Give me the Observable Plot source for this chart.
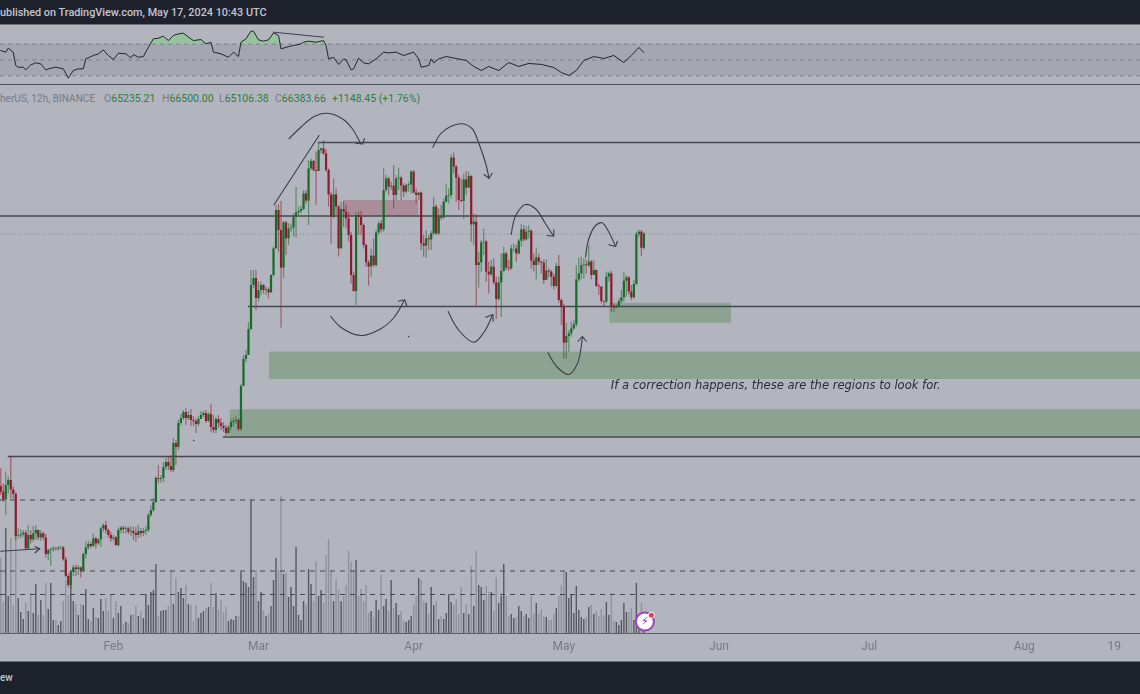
<!DOCTYPE html>
<html><head><meta charset="utf-8">
<script src="https://cdn.jsdelivr.net/npm/d3@7"></script>
<script src="https://cdn.jsdelivr.net/npm/@observablehq/plot@0.6"></script>
<style>
html,body{margin:0;padding:0;background:#b2b5be;overflow:hidden}
#page{position:relative;width:1140px;height:694px;overflow:hidden;background:#b2b5be;font-family:Roboto,sans-serif}
#page svg{position:absolute;left:0;background:transparent;overflow:hidden;filter:blur(0.3px)}
.bar{position:absolute;left:0;width:1140px;background:#1e222d}
.t{position:absolute;white-space:nowrap}
</style></head><body><div id="page"></div>
<script>
// ---- price data, thousands of USD per 12h bar
const closes=[
45.73,45.11,46.26,46.66,45.91,45.54,42.18,42.23,42.31,42.45,
41.19,42.26,41.91,42.39,42.66,42.07,42.39,42.07,40.74,41.06,
41.11,41.19,41.17,41.25,41.27,40.31,38.98,38.26,39.33,39.67,
39.54,39.67,39.41,40.74,41.27,41.54,41.38,41.99,41.59,41.91,
42.79,43.06,42.66,42.26,41.99,42.07,41.46,42.66,42.85,42.74,
42.79,42.53,42.58,42.42,42.26,42.58,42.42,42.58,42.66,43.86,
44.26,44.9,46.82,46.74,46.82,47.7,48.1,47.78,47.46,49.62,
49.3,51.22,51.62,52.1,51.62,51.86,51.46,51.38,51.14,51.54,
51.86,52.02,51.38,51.94,50.9,50.66,51.54,51.22,50.98,50.82,
50.42,50.9,51.3,51.38,51.46,50.74,54.18,56.34,56.66,58.74,
62.26,62.82,61.22,
61.86,62.26,61.86,61.91,61.67,63.06,65.19,68.26,66.66,63.65,
67.27,65.99,66.79,66.85,67.73,68.07,68.18,68.34,69.59,69.01,
71.59,72.18,71.46,71.38,73.06,73.19,72.79,71.46,69.51,67.73,
69.51,68.53,65.19,68.34,68.13,67.59,66.26,63.06,61.78,67.86,
67.73,67.06,65.46,64.07,63.73,64.61,63.86,66.47,67.19,66.71,69.86,
70.79,70.13,70.21,69.46,70.79,70.85,70.21,69.73,70.26,70.31,
71.33,69.65,69.46,69.65,65.59,65.41,65.99,65.91,66.39,68.53,
66.39,67.73,67.65,68.93,69.41,69.46,72.45,71.73,70.85,69.06,
68.98,70.71,70.05,70.98,67.11,67.33,63.86,64.07,65.67,65.73,
63.33,63.11,63.73,62.47,61.14,62.47,63.38,64.79,63.65,63.59,65.19,
65.19,64.79,65.81,66.71,65.91,66.53,66.61,64.21,63.86,64.47,
64.13,64.05,62.66,63.41,63.33,62.93,62.18,63.78,61.06,60.53,
57.65,58.18,58.39,58.79,59.11,62.71,63.19,63.86,63.91,63.83,
64.13,63.06,63.46,62.18,62.13,60.98,60.93,62.93,63.19,60.58,
60.47,60.58,60.98,61.27,62.61,62.87,61.73,61.27,62.34,66.34,
66.53,65.24,66.38];
const highs=[
47.6,46.39,47.33,46.93,48.61,46.13,45.73,42.79,42.71,42.66,
42.66,43.06,42.66,42.98,43.06,42.71,42.66,42.53,42.34,41.19,
41.27,41.38,41.33,41.38,41.43,41.38,40.53,39.19,39.46,39.86,
39.86,39.86,39.73,40.85,41.73,41.81,41.73,42.39,42.13,41.99,
42.93,43.19,43.41,42.79,42.53,42.26,42.18,42.87,42.98,42.98,
42.98,42.93,42.98,42.9,42.9,43.06,42.82,42.82,42.98,44.02,
44.66,45.22,46.98,47.86,47.06,48.1,48.42,48.58,48.66,50.02,
49.86,51.46,51.94,52.26,52.42,52.18,52.34,51.78,51.62,51.78,
52.18,52.18,52.26,52.1,52.74,51.86,51.7,51.86,51.62,51.3,
51.06,51.06,51.54,51.62,51.78,51.62,54.34,56.66,57.06,59.3,
63.46,63.46,63.46,
62.53,62.53,62.34,62.13,62.05,63.11,65.33,68.66,68.71,68.98,
67.38,67.38,67.19,67.19,67.99,70.13,68.53,68.61,69.86,69.86,
72.26,72.39,72.26,72.93,73.67,73.25,73.86,73.14,71.59,69.73,
70.79,69.99,68.66,68.93,68.98,68.66,68.07,66.53,63.33,68.07,
68.13,68.18,67.19,65.59,64.26,65.19,65.99,66.66,67.38,67.46,71.59,
71.06,70.93,70.53,71.86,71.06,71.65,71.01,70.39,70.39,70.53,
71.46,71.46,69.99,69.73,69.73,66.26,66.66,66.26,66.58,69.33,
68.71,68.39,68.66,69.19,70.39,69.99,72.71,72.87,71.86,71.06,
70.79,71.19,71.38,71.33,71.06,67.99,67.91,64.93,65.86,66.79,
65.86,64.13,64.26,64.39,62.93,62.93,64.79,65.33,64.93,64.26,65.46,
65.59,65.46,65.99,67.14,67.06,66.98,67.06,66.71,64.79,65.27,
64.79,64.21,64.31,64.31,63.59,63.46,63.19,64.05,64.66,61.19,
60.79,59.25,58.66,59.33,59.46,63.86,64.47,64.53,64.39,64.31,
65.46,64.26,64.26,63.51,62.39,62.18,61.06,63.33,63.33,63.41,
60.79,60.74,61.19,61.86,63.33,63.06,62.98,62.26,62.66,66.53,
66.71,66.66,66.5];
const lows=[
45.46,44.93,43.86,45.59,45.19,45.19,41.86,42.0,42.0,42.13,
41.11,41.11,41.59,41.73,41.86,41.86,41.81,41.86,40.47,40.26,
39.78,40.93,41.01,41.01,41.06,40.21,38.87,38.07,37.99,38.98,
38.98,39.06,38.87,39.33,40.39,41.06,41.19,41.33,41.19,41.46,
41.33,42.53,42.39,42.07,41.73,41.81,41.38,41.33,42.39,42.39,
42.39,42.34,42.18,41.86,41.7,42.02,42.1,42.18,42.26,42.5,
43.7,44.1,44.82,46.42,46.42,46.5,47.46,47.46,47.3,47.3,
47.86,49.06,51.06,51.46,51.06,51.46,50.98,50.98,50.42,50.98,
51.62,51.7,51.22,51.3,50.5,50.42,50.42,50.82,50.66,50.5,
50.18,50.26,50.66,50.98,51.14,50.58,50.58,54.18,56.1,56.66,
58.66,62.02,60.26,
60.93,61.46,61.59,61.46,61.19,61.67,62.93,65.19,64.93,58.85,
62.79,64.66,65.46,66.53,66.13,66.05,67.86,67.99,68.26,68.79,
67.06,71.46,71.33,68.66,71.38,72.79,72.66,71.33,68.53,65.59,
67.59,67.86,64.53,65.19,66.93,66.79,65.73,62.39,61.73,60.66,
66.26,66.26,65.19,63.73,62.21,62.93,63.73,63.73,66.31,66.47,66.53,
69.73,69.46,69.86,68.39,69.06,69.86,69.06,69.33,69.59,69.73,
69.59,69.59,68.79,69.06,65.06,64.53,64.45,65.06,65.06,66.26,
66.26,66.26,67.46,67.59,68.87,68.79,69.19,71.19,68.93,68.26,
68.87,67.54,69.46,70.05,65.73,65.46,60.61,62.05,63.33,64.66,
62.53,61.59,63.01,62.31,59.54,60.98,59.73,63.33,63.46,63.38,63.46,
64.93,64.13,64.71,65.33,65.73,65.81,65.99,63.59,63.33,62.71,
63.86,63.19,62.34,62.66,62.87,62.13,61.91,62.07,60.85,59.06,
56.39,56.39,56.93,58.13,58.66,58.93,62.53,62.71,62.79,63.19,
63.73,62.71,63.06,62.13,61.46,60.79,60.58,60.79,62.53,60.13,
60.13,60.47,60.53,60.79,60.93,61.33,61.46,61.06,61.19,62.26,
66.13,64.58,65.11];
const firstOpen=46.18;
// ---- volume per bar (relative units)
const volumes=[
75,31,105,37,95,28,105,35,21,14,30,22,40,20,49,18,33,18,50,24,
50,13,13,8,12,32,53,38,48,32,29,18,29,28,44,14,12,25,16,15,
34,22,35,22,39,15,32,20,27,9,11,10,18,19,27,17,22,15,39,28,
41,43,69,17,22,23,23,27,63,29,55,41,45,35,48,29,28,12,28,15,
20,22,25,26,50,26,40,23,33,21,26,12,14,13,17,17,
61,52,50,46,133,56,63,32,41,23,
17,19,27,53,75,63,137,59,60,36,
46,27,86,18,13,32,28,64,49,32,
72,37,43,30,78,94,62,32,54,43,
32,37,48,82,71,63,73,37,44,32,
48,20,22,16,33,23,58,27,34,22,
53,25,30,18,22,12,11,13,17,28,
37,55,53,32,30,19,46,28,32,14,
17,14,20,39,31,28,34,19,46,20,
29,19,67,27,82,48,46,33,47,41,
41,22,56,30,37,69,37,17,19,15,
16,27,22,17,19,15,37,19,30,19,
24,17,16,13,13,19,25,37,48,62,
61,35,38,20,47,23,16,14,16,26,
28,19,22,17,24,18,31,18,40,12,
11,8,13,30,21,21,25,13,50,12,
30,5];
// ---- RSI, sampled at these bars
const rsiBars=[0,2,3,5,6,7,9,10,12,14,16,18,20,22,25,27,29,31,33,34,37,39,41,43,45,47,50,52,53,55,57,59,61,63,65,67,69,71,73,75,77,80,82,84,85,88,91,93,95,96,98,100,101,103,105,107,109,111,112,115,117,120,121,123,126,129,130,131,133,135,137,138,140,141,143,145,147,150,153,155,158,161,165,167,168,171,172,173,175,178,182,186,189,192,195,199,203,207,211,216,221,224,227,230,233,237,241,245,249,252,255,257];
const rsiValues=[62,59.9,64.9,59.9,43,40.9,40.9,37.5,43.8,46.4,45.1,37.5,39.6,40.9,38.8,27,36.7,38.8,38.8,51.4,55.7,57.8,62.8,55.7,50.6,58.6,57.8,52.7,56.9,53.5,54.4,66.2,76.8,77.6,80.1,74.6,81,83.1,83.9,78.9,74.6,75.9,70.4,72.5,59.9,57.8,53.5,59.9,54.4,72.5,76.8,86.5,86.5,75.5,73.8,75.5,84.3,81,64.1,67,68.3,70.4,72.5,73.8,72.5,74.6,68.3,51.4,53.5,44.3,51.4,50.2,37.5,38.8,52.3,46.4,45.1,51.4,59.9,59,59.9,55.7,59.9,51.4,40.9,43,51.4,46.4,51.4,54.4,51.9,49.4,41.8,36.7,41.8,36.7,46.8,41.8,45.6,44.4,40.5,34.2,30.4,36.7,49.4,54.4,51.9,55.7,46.8,55.7,65.8,59.5];
const rsiLevels=[70,50,30];
const rsiTrendBars=[109,129];
const rsiTrendValues=[85.2,78.9];
// ---- price levels
const solidLevels=[{p:73.7,b:127},{p:67.82,b:-2},{p:60.58,b:99},{p:50.14,b:89},{p:48.58,b:3}];
const dashedLevels=[45.1,39.42,37.54];
const lastClose=66.38;
const zones=[
 {b1:107.4,p1:54.74,p2:56.94},
 {b1:91.7,p1:50.14,p2:52.32},
 {b1:243.4,b2:292,p1:59.24,p2:60.84}];
const pinkZone=[{b1:137,b2:167,p1:67.8,p2:69.06}];
// ---- drawn annotations: [bar, price]
const rise=[[109.2,68.72],[127.2,74.26]];
const arcs=[
 [[115.2,74],[119.9,74.92],[125.2,75.78],[130.5,76.04],[136.5,75.6],[140.5,74.8],[143.8,73.6]],
 [[131.9,59.8],[135.9,58.92],[143.9,58.26],[151.9,58.8],[157.2,59.72],[161.2,61.06]],
 [[172.7,73.32],[175.8,74.4],[179.8,74.98],[184.4,75.2],[188.4,74.8],[191.1,73.6],[193.8,72],[195.1,70.84]],
 [[204,66.34],[205.8,67.86],[209.7,68.74],[213.7,68.4],[217.7,67.2],[220.7,66.26]],
 [[233.7,64.52],[235,66],[237.7,67.06],[240.3,67.28],[243,66.52],[245.7,65.38]],
 [[178.8,60.18],[183.1,58.66],[189.1,57.72],[193.1,58.52],[196.4,59.86]],
 [[218.7,56.88],[222.4,55.72],[227,55.14],[230.4,55.99],[232.4,58.12]],
 [[0,41],[15.3,41.2]]];
const heads=[
 [[141.9,73.64],[144.7,73.58],[145.3,74.02]],
 [[158.9,61],[161.4,61.12],[162.2,60.66]],
 [[193.1,71.14],[195.1,70.84],[196.4,71.24]],
 [[218.4,66.26],[221,66.2],[221,66.72]],
 [[243,65.52],[245.7,65.38],[246.4,65.8]],
 [[193.8,59.72],[196.7,59.94],[196.8,59.4]],
 [[230.7,57.8],[232.4,58.18],[234,57.8]],
 [[13.7,41.38],[15.6,41.2],[13.7,40.88]]];
const specks=[[163,58.18],[77.1,49.86]];
const note="If a correction happens, these are the regions to look for.";
const tickDates=[[2024,1,1],[2024,2,1],[2024,3,1],[2024,4,1],[2024,5,1],[2024,6,1],[2024,7,1],[2024,7,19]];
const tickLabels=["Feb","Mar","Apr","May","Jun","Jul","Aug","19"];

// ---- colours
const C={bg:"#b2b5be",dark:"#1e222d",up:"#176a28",dn:"#8e1a2e",ink:"#3b3e49",line:"#46484f",axis:"#74767f",green:"#8ca391"};

// ---- derived
const t0=Date.UTC(2024,0,9,12);
const barDate=b=>new Date(t0+b*43200000);
const bars=closes.map((c,j)=>{const o=j?closes[j-1]:firstOpen;return {date:barDate(j),o,c,h:highs[j],l:lows[j],v:volumes[j],up:c>=o};});
const xDomain=[new Date(Date.UTC(2024,0,9,10,51)),new Date(Date.UTC(2024,7,24,5,20))];
const W=1140;
const pts=a=>a.map(([b,p])=>({d:barDate(b),p}));
const page=document.getElementById("page");
function place(el,top){el.style.top=top+"px";page.appendChild(el);}
function div(cls,css,txt){const e=document.createElement("div");e.className=cls;e.style.cssText=css;if(txt)e.textContent=txt;page.appendChild(e);return e;}

// top and bottom bars
div("bar","top:0;height:24px;border-bottom:1px solid #6d6f79");
div("t",`left:0;top:6px;color:#c3c6cf;font:500 10.85px Roboto,sans-serif`,"ublished on TradingView.com, May 17, 2024 10:43 UTC");
div("bar","top:661px;height:33px;border-top:1px solid #6d6f79;box-sizing:border-box");
div("t",`left:0;top:672px;color:#c3c6cf;font:500 10px Roboto,sans-serif`,"ew");

// RSI pane
const rsi=rsiBars.map((b,k)=>({d:barDate(b),r:rsiValues[k]}));
place(Plot.plot({width:W,height:60,margin:0,x:{domain:xDomain,axis:null},y:{domain:[17.72,93.67],axis:null},
 marks:[
  Plot.rectY([0],{x1:xDomain[0],x2:xDomain[1],y1:30,y2:70,fill:"#a4a6b1"}),
  Plot.areaY(rsi,{x:"d",y1:70,y2:d=>Math.max(d.r,70),fill:"#96c29e"}),
  Plot.ruleY(rsiLevels,{stroke:"#7f818c",strokeDasharray:"4 4",strokeWidth:1}),
  Plot.line(rsi,{x:"d",y:"r",stroke:"#23252e",strokeWidth:1}),
  Plot.line(rsiTrendBars.map((b,k)=>({d:barDate(b),r:rsiTrendValues[k]})),{x:"d",y:"r",stroke:C.ink,strokeWidth:1}),
  Plot.ruleY([19],{stroke:"#50525c",strokeWidth:1})
 ]}),25);

// volume pane, sits under the price marks
place(Plot.plot({width:W,height:141,margin:0,x:{domain:xDomain,axis:null},y:{domain:[0,140],range:[140,0],axis:null},
 marks:[Plot.ruleX(bars,{x:"date",y1:0,y2:"v",stroke:d=>d.up?"#565861":"#8f919c",strokeWidth:1.4})]}),493);

// legend line
div("t",`left:0;top:92px;color:#777a85;font:10.1px Roboto,sans-serif;line-height:13px`,"herUS, 12h, BINANCE");
[["O","65235.21",104],["H","66500.00",162],["L","65106.38",219],["C","66383.66",275]].forEach(([k,v,x])=>{
 const e=div("t",`left:${x}px;top:92px;color:#777a85;font:10.5px Roboto,sans-serif;line-height:13px`,k);
 const s=document.createElement("span");s.style.color="#2f7d3f";s.textContent=v;e.appendChild(s);});
div("t",`left:332px;top:92px;color:#2f7d3f;font:10.5px Roboto,sans-serif;line-height:13px`,"+1148.45 (+1.76%)");

// main price pane
const arcMarks=arcs.map(a=>Plot.line(pts(a),{x:"d",y:"p",curve:"catmull-rom",stroke:C.ink,strokeWidth:1.1}));
const headMarks=heads.map(a=>Plot.line(pts(a),{x:"d",y:"p",stroke:C.ink,strokeWidth:1.1}));
place(Plot.plot({width:W,height:576,marginTop:0,marginLeft:0,marginRight:0,marginBottom:28,
 x:{domain:xDomain,axis:null},y:{domain:[34.42,78.26],axis:null},
 marks:[
  Plot.rect(zones,{x1:d=>barDate(d.b1),x2:d=>d.b2?barDate(d.b2):xDomain[1],y1:"p1",y2:"p2",fill:C.green}),
  Plot.rect(pinkZone,{x1:d=>barDate(d.b1),x2:d=>barDate(d.b2),y1:"p1",y2:"p2",fill:"#8e1b30",fillOpacity:0.25}),
  Plot.ruleY(solidLevels,{y:"p",x1:d=>barDate(d.b),x2:xDomain[1],stroke:C.line,strokeWidth:1.3}),
  Plot.ruleY(dashedLevels,{stroke:C.line,strokeDasharray:"5 5",strokeWidth:1}),
  Plot.ruleY([lastClose],{stroke:"#8a8c96",strokeDasharray:"1 2",strokeWidth:1}),
  Plot.ruleX(bars,{x:"date",y1:"l",y2:"h",stroke:d=>d.up?C.up:C.dn,strokeWidth:1.2,strokeOpacity:0.55}),
  Plot.ruleX(bars,{x:"date",y1:"o",y2:"c",stroke:d=>d.up?C.up:C.dn,strokeWidth:2.2}),
  Plot.line(pts(rise),{x:"d",y:"p",stroke:C.ink,strokeWidth:1.1}),
  ...arcMarks,...headMarks,
  Plot.dot(pts(specks),{x:"d",y:"p",r:0.8,fill:C.ink}),
  Plot.text([note],{x:barDate(243.8),y:54.26,text:d=>d,textAnchor:"start",fill:"#2a2d38",fontSize:11.55,fontStyle:"italic",fontFamily:"'DejaVu Sans'"}),
  Plot.ruleY([34.42],{stroke:"#5d5f69",strokeWidth:1.2}),
  Plot.axisX({ticks:tickDates.map(([y,m,d])=>new Date(Date.UTC(y,m,d))),tickFormat:d=>tickLabels[tickDates.findIndex(([y,m,dd])=>+new Date(Date.UTC(y,m,dd))===+d)],tickSize:0,tickPadding:8,anchor:"bottom",fontSize:12,fill:"#777a85",fontFamily:"Roboto",label:null}),
  Plot.dot(pts([[257.4,35.38]]),{x:"d",y:"p",r:9,fill:"#fff",stroke:"#a23cc0",strokeWidth:2}),
  Plot.text(pts([[257.4,35.36]]),{x:"d",y:"p",text:()=>"⚡",fill:"#8e2db0",fontSize:11,fontFamily:"'DejaVu Sans'"}),
  Plot.dot(pts([[260,35.88]]),{x:"d",y:"p",r:3,fill:"#f23645",stroke:"#fff",strokeWidth:1})
 ]}),85);
</script></body></html>
